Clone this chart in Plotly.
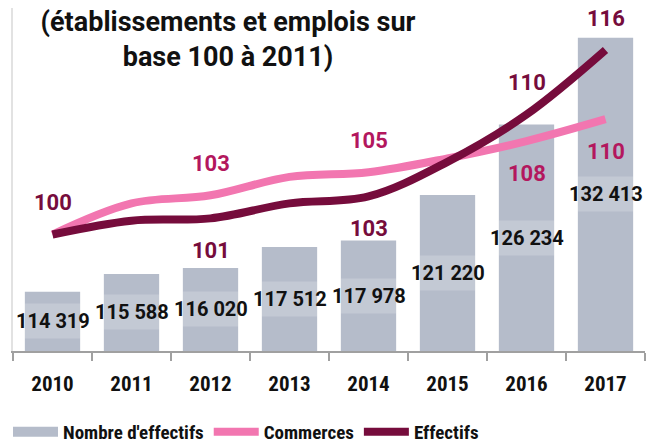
import plotly.graph_objects as go

years = ["2010", "2011", "2012", "2013", "2014", "2015", "2016", "2017"]
nombre_effectifs = [114319, 115588, 116020, 117512, 117978, 121220, 126234, 132413]
commerces = [100, 102.7, 103.4, 105.0, 105.4, 106.6, 108.1, 110.0]
effectifs = [100, 101.2, 101.4, 102.7, 103.3, 106.3, 110.4, 116.0]

# which points carry a label (index -> above/below)
comm_labels = {2: 1, 4: 1, 6: -1, 7: -1}
eff_labels = {0: 1, 2: -1, 4: -1, 6: 1, 7: 1}

BAR = "#b5bcca"
PINK = "#f276b0"
MAROON = "#760c3c"
PINK_TXT = "#b3175e"
Y1 = [110100, 134534]
Y2 = [89.9, 119.64]
COND = "Roboto Condensed, DejaVu Sans Condensed, Roboto"

# the page body adds an 8px margin: the figure is sized to the remaining area
W, H = 653, 436

fig = go.Figure()
fig.add_trace(go.Bar(x=years, y=nombre_effectifs, marker_color=BAR,
                     marker_line_width=0, showlegend=False, name="Nombre d'effectifs"))
fig.add_trace(go.Scatter(x=[years[0]], y=[None], mode="lines", name="Nombre d'effectifs",
                         line=dict(color=BAR, width=10)))
fig.add_trace(go.Scatter(x=years, y=commerces, mode="lines", name="Commerces", yaxis="y2",
                         line=dict(color=PINK, width=8, shape="spline", smoothing=1)))
fig.add_trace(go.Scatter(x=years, y=effectifs, mode="lines", name="Effectifs", yaxis="y2",
                         line=dict(color=MAROON, width=8, shape="spline", smoothing=1)))

ann = []
for i, v in enumerate(nombre_effectifs):
    mid = (Y1[0] + v) / 2
    ann.append(dict(x=i, y=mid, xref="x", yref="y", text=" ", showarrow=False,
                    width=55, height=34, bgcolor="rgba(255,255,255,0.2)", borderpad=0))
    ann.append(dict(x=i, y=mid, xref="x", yref="y", text=f"{v:,}".replace(",", " "),
                    showarrow=False, font=dict(family="Roboto", size=20, color="#111", weight="bold")))

for i, d in comm_labels.items():
    ann.append(dict(x=i, y=commerces[i], xref="x", yref="y2", text=f"{commerces[i]:.0f}",
                    showarrow=False, yshift=32 * d, borderpad=0,
                    font=dict(family="Roboto", size=22, color=PINK_TXT, weight="bold")))
for i, d in eff_labels.items():
    ann.append(dict(x=i, y=effectifs[i], xref="x", yref="y2", text=f"{effectifs[i]:.0f}",
                    showarrow=False, yshift=(31 if i == len(years) - 1 else 32) * d, borderpad=0,
                    font=dict(family="Roboto", size=22, color=MAROON, weight="bold")))

fig.update_layout(
    width=W, height=H,
    margin=dict(l=5, r=16, t=0, b=93, autoexpand=False),
    plot_bgcolor="white", paper_bgcolor="white",
    bargap=0.3,
    title=dict(text="(établissements et emplois sur<br>base 100 à 2011)",
               x=220 / W, xanchor="center", y=1 - 23 / H, yanchor="middle",
               font=dict(family="Roboto", size=27, color="#111", weight="bold")),
    xaxis=dict(type="category", range=[-0.5, len(years) - 0.5], showline=True,
               linecolor="#a0a0a0", linewidth=2,
               ticks="outside", tickson="boundaries", ticklen=8, tickcolor="#a0a0a0", tickwidth=2,
               ticklabelstandoff=13, showgrid=False, tickangle=0,
               tickfont=dict(family=COND, size=21, color="#111", weight="bold")),
    yaxis=dict(range=Y1, showgrid=False, showticklabels=False, zeroline=False,
               showline=True, linecolor="#e2e2e2", linewidth=2),
    yaxis2=dict(range=Y2, overlaying="y", showgrid=False, showticklabels=False,
                zeroline=False, visible=False),
    legend=dict(orientation="h", xref="container", yref="container", x=0, xanchor="left",
                y=1 - 424 / H, yanchor="middle", itemwidth=45,
                font=dict(family=COND, size=19, color="#111", weight="bold")),
    annotations=ann,
)
fig.write_html("out.html")
